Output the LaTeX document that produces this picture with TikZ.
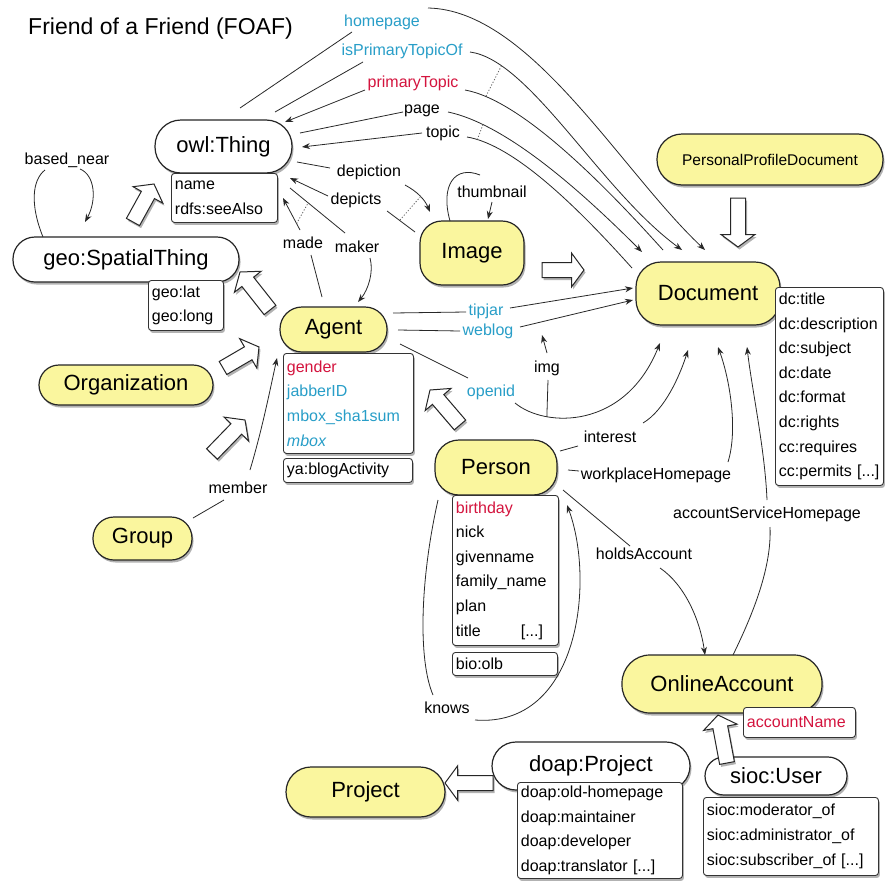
\documentclass[tikz,border=0pt]{standalone}
\usepackage{fontspec}
\setmainfont{Liberation Sans}
\usetikzlibrary{calc,shadows,arrows.meta}
\definecolor{nodeyellow}{RGB}{250,246,158}
\definecolor{lblue}{RGB}{40,158,200}
\definecolor{lred}{RGB}{212,20,62}
\definecolor{edgecol}{RGB}{40,40,40}
\tikzset{
  shad/.style={drop shadow={shadow xshift=1.5pt,shadow yshift=-2.5pt,fill=black,opacity=0.3}},
  mainnode/.style={shad,draw=black!85,line width=1.2pt,inner sep=0pt,font=\fontsize{22}{24}\selectfont},
  ynode/.style={mainnode,fill=nodeyellow},
  wnode/.style={mainnode,fill=white},
  attrbox/.style={shad,draw=black!80,line width=0.9pt,fill=white,rounded corners=3pt,anchor=north west,align=left,inner xsep=3.5pt,inner ysep=0pt,font=\fontsize{16}{24.6}\selectfont},
  lbl/.style={inner sep=1pt,font=\fontsize{16}{18}\selectfont},
  edge/.style={draw=edgecol,line width=0.8pt},
  arr/.style={edge,-{Stealth[length=8pt,width=6pt]}},
  dotl/.style={draw=black!60,line width=0.8pt,dash pattern=on 1.2pt off 1.8pt},
  harrow/.style={shad,draw=black!85,line width=1pt,fill=white,line join=miter},
}
\newcommand\hollowarrow[2]{%
  \coordinate (ha-a) at #1;
  \coordinate (ha-b) at #2;
  \coordinate (ha-n) at ($(ha-b)!12.5pt!(ha-a)$);
  \draw[harrow] ($(ha-a)!7.5pt!90:(ha-b)$) -- ($(ha-n)!7.5pt!-90:(ha-a)$) -- ($(ha-n)!17pt!-90:(ha-a)$) -- (ha-b) -- ($(ha-n)!17pt!90:(ha-a)$) -- ($(ha-n)!7.5pt!90:(ha-a)$) -- ($(ha-a)!7.5pt!-90:(ha-b)$) -- cycle;
}
\begin{document}
\begin{tikzpicture}[x=1pt,y=-1pt]
\useasboundingbox (0,0) rectangle (886,881);
\fill[white] (0,0) rectangle (886,881);

\node[font=\fontsize{23}{26}\selectfont,anchor=west,inner sep=0pt] (title) at (28,29) {Friend of a Friend (FOAF)};

% main nodes
\node[wnode,rounded corners=26pt,minimum width=137pt,minimum height=53pt] (thing) at (223.5,146.5) {owl:Thing};
\node[attrbox,text width=99pt,minimum height=49pt] (thingattr) at (171,173) {name\\rdfs:seeAlso};
\node[wnode,rounded corners=22pt,minimum width=226pt,minimum height=45pt] (geo) at (126,259.5) {geo:SpatialThing};
\node[attrbox,text width=68pt,minimum height=50pt] (geoattr) at (148,280) {geo:lat\\geo:long};
\node[ynode,rounded corners=20pt,minimum width=174pt,minimum height=40pt] (org) at (126,385) {Organization};
\node[ynode,rounded corners=21pt,minimum width=99pt,minimum height=43pt] (group) at (142.5,538.5) {Group};
\node[ynode,rounded corners=22pt,minimum width=107pt,minimum height=45pt] (agent) at (333.5,329.5) {Agent};
\node[attrbox,text width=123pt,minimum height=100pt] (agentattr) at (283,353) {\textcolor{lred}{gender}\\\textcolor{lblue}{jabberID}\\\textcolor{lblue}{mbox\_sha1sum}\\\textcolor{lblue}{\itshape mbox}};
\node[attrbox,text width=122pt,minimum height=24pt] (blog) at (283,458) {ya:blogActivity};
\node[ynode,rounded corners=22pt,minimum width=104pt,minimum height=64pt] (image) at (472,253) {Image};
\node[ynode,rounded corners=25pt,minimum width=144pt,minimum height=63pt] (doc) at (708,293.5) {Document};
\node[attrbox,text width=101pt,minimum height=198pt] (docattr) at (775,287) {dc:title\\dc:description\\dc:subject\\dc:date\\dc:format\\dc:rights\\cc:requires\\\mbox{cc:permits [...]}};
\node[ynode,rounded corners=25pt,minimum width=226pt,minimum height=51pt,font=\fontsize{15.5}{18}\selectfont] (ppd) at (770,159.5) {PersonalProfileDocument};
\node[ynode,rounded corners=24pt,minimum width=122pt,minimum height=55pt] (person) at (496,467.5) {Person};
\node[attrbox,text width=99pt,minimum height=150pt] (personattr) at (452,495) {\textcolor{lred}{birthday}\\nick\\givenname\\family\_name\\plan\\title\hspace{40pt}[...]};
\node[attrbox,text width=98pt,minimum height=23pt] (bio) at (452,652) {bio:olb};
\node[ynode,rounded corners=28pt,minimum width=200pt,minimum height=58pt] (online) at (722,684) {OnlineAccount};
\node[attrbox,text width=105pt,minimum height=30pt] (accname) at (743,707) {\textcolor{lred}{accountName}};
\node[wnode,rounded corners=24pt,minimum width=198pt,minimum height=48pt] (doap) at (591,766) {doap:Project};
\node[attrbox,text width=158pt,minimum height=96pt] (doapattr) at (517,782) {doap:old-homepage\\doap:maintainer\\doap:developer\\doap:translator [...]};
\node[wnode,rounded corners=19pt,minimum width=142pt,minimum height=38pt] (sioc) at (776,776) {sioc:User};
\node[attrbox,text width=168pt,minimum height=78pt] (siocattr) at (703,797) {sioc:moderator\_of\\sioc:administrator\_of\\sioc:subscriber\_of [...]};
\node[ynode,rounded corners=25pt,minimum width=159pt,minimum height=50pt] (project) at (365.5,792) {Project};

% labels
\node[lbl,text=lblue] (homepage) at (382,22) {homepage};
\node[lbl,text=lblue] (ipto) at (402,51) {isPrimaryTopicOf};
\node[lbl,text=lred] (ptopic) at (413,83) {primaryTopic};
\node[lbl] (page) at (422,111) {page};
\node[lbl] (topic) at (443,133) {topic};
\node[lbl] (depiction) at (369,172) {depiction};
\node[lbl] (depicts) at (356,200) {depicts};
\node[lbl] (thumb) at (492,192) {thumbnail};
\node[lbl] (bnear) at (67,160) {based\_near};
\node[lbl] (made) at (303,243) {made};
\node[lbl] (maker) at (357,247) {maker};
\node[lbl] (member) at (238,488) {member};
\node[lbl,text=lblue] (tipjar) at (486,311) {tipjar};
\node[lbl,text=lblue] (weblog) at (488,331) {weblog};
\node[lbl] (img) at (547,368) {img};
\node[lbl,text=lblue] (openid) at (491,392) {openid};
\node[lbl] (interest) at (610,437) {interest};
\node[lbl] (wph) at (656,475) {workplaceHomepage};
\node[lbl] (ash) at (767,514) {accountServiceHomepage};
\node[lbl] (holds) at (644,554) {holdsAccount};
\node[lbl] (knows) at (447,708) {knows};

% homepage
\draw[edge] ($(thing)+(16.5,-38.5)$) -- ($(homepage)+(-30,10)$);
\draw[arr] ($(homepage)+(46,-14)$) .. controls (530,10) and (620,170) .. ($(doc)+(-3,-43.5)$);
% isPrimaryTopicOf
\draw[edge] ($(thing)+(51.5,-34.5)$) -- ($(ipto)+(-39,11)$);
\draw[arr] ($(ipto)+(68,1)$) .. controls (530,60) and (600,190) .. ($(doc)+(-26,-43.5)$) coordinate[pos=0.17] (iptoD);
% primaryTopic
\draw[arr] ($(ptopic)+(-48,7)$) -- ($(thing)+(61.5,-24.5)$);
\draw[edge] ($(ptopic)+(52,7)$) .. controls (520,100) and (600,180) .. ($(doc)+(-45,-43.5)$) coordinate[pos=0.12] (ptD);
\draw[dotl] (iptoD) -- (ptD);
% page
\draw[edge] ($(thing)+(76.5,-13.5)$) -- ($(page)+(-19,1)$);
\draw[arr] ($(page)+(26,1)$) .. controls (510,125) and (590,200) .. ($(doc)+(-66,-41.5)$) coordinate[pos=0.18] (pageD);
% topic
\draw[arr] ($(topic)+(-21,0)$) -- ($(thing)+(78.5,0.5)$);
\draw[edge] ($(topic)+(24,4)$) .. controls (515,145) and (580,210) .. ($(doc)+(-76,-25.5)$) coordinate[pos=0.07] (topicD);
\draw[dotl] (pageD) -- (topicD);
% depiction / depicts
\draw[edge] ($(thing)+(73.5,15.5)$) -- ($(depiction)+(-39,-4)$);
\draw[arr] ($(depiction)+(36,13)$) .. controls (418,192) and (425,200) .. ($(image)+(-42,-41)$) coordinate[pos=0.5] (depD);
\draw[arr] ($(depicts)+(-28,-4)$) -- ($(thing)+(66.5,31.5)$);
\draw[edge] ($(depicts)+(31,11)$) -- ($(image)+(-57,-21)$) coordinate[pos=0.45] (depsD);
\draw[dotl] (depD) -- (depsD);
% thumbnail
\draw[edge] ($(image)+(-22,-32)$) .. controls (440,185) and (455,165) .. ($(thumb)+(-12,-17)$);
\draw[arr] ($(thumb)+(0,10)$) -- ($(image)+(16,-34)$);
% based_near
\draw[edge] ($(geo)+(-83,-22.5)$) .. controls (30,205) and (32,180) .. ($(bnear)+(-22,10)$);
\draw[arr] ($(bnear)+(13,9)$) .. controls (95,175) and (97,200) .. ($(geo)+(-41,-37.5)$);
% made / maker
\draw[edge] ($(agent)+(-11.5,-32.5)$) -- ($(made)+(8,12)$);
\draw[arr] ($(made)+(-3,-13)$) -- ($(thing)+(59.5,51.5)$) coordinate[pos=0.2] (madeD);
\draw[edge] ($(thing)+(66.5,41.5)$) -- ($(maker)+(-12,-14)$) coordinate[pos=0.33] (makerD);
\draw[dotl] (madeD) -- (makerD);
\draw[arr] ($(maker)+(13,11)$) .. controls (374,272) and (368,290) .. ($(agent)+(24.5,-27.5)$);
% tipjar / weblog / openid / img
\draw[edge] ($(agent)+(59.5,-16.5)$) -- ($(tipjar)+(-20,1)$);
\draw[arr] ($(tipjar)+(24,-3)$) -- ($(doc)+(-75,-5.5)$);
\draw[edge] ($(agent)+(64.5,0.5)$) -- ($(weblog)+(-28,0)$);
\draw[arr] ($(weblog)+(32,-4)$) -- ($(doc)+(-75,6.5)$);
\draw[edge] ($(agent)+(66.5,14.5)$) -- ($(openid)+(-23,-14)$);
\draw[arr] ($(openid)+(24,11)$) .. controls (545,428) and (625,430) .. ($(doc)+(-48,49.5)$) coordinate[pos=0.26] (imgfoot);
\draw[edge] (imgfoot) -- ($(img)+(1,12)$);
\draw[arr] ($(img)+(0,-15)$) -- ($(image)+(70,82)$);
% interest
\draw[edge] ($(person)+(64,-16.5)$) -- ($(interest)+(-32,9)$);
\draw[arr] ($(interest)+(33,-14)$) .. controls (665,410) and (680,375) .. ($(doc)+(-20,56.5)$);
% workplaceHomepage
\draw[edge] ($(person)+(72,2.5)$) -- ($(wph)+(-77,-4)$);
\draw[arr] ($(wph)+(72,-13)$) .. controls (738,430) and (730,380) .. ($(doc)+(10,53.5)$);
% accountServiceHomepage
\draw[arr] ($(ash)+(0,-14)$) .. controls (765,450) and (752,390) .. ($(doc)+(39,53.5)$);
\draw[edge] ($(ash)+(3,13)$) .. controls (772,570) and (750,620) .. ($(online)+(11,-29)$);
% holdsAccount
\draw[edge] ($(person)+(67,22.5)$) -- ($(holds)+(-14,-8)$);
\draw[arr] ($(holds)+(16,14)$) .. controls (685,585) and (700,620) .. ($(online)+(-17,-29)$);
% knows
\draw[edge] ($(person)+(-58,32.5)$) .. controls (420,580) and (418,660) .. ($(knows)+(-14,-13)$);
\draw[arr] ($(knows)+(28,12)$) .. controls (580,728) and (595,580) .. ($(person)+(71,37.5)$);
% member
\draw[edge] ($(group)+(50.5,-20.5)$) -- ($(member)+(-14,12)$);
\draw[arr] ($(member)+(12,-18)$) .. controls (262,430) and (270,390) .. ($(agent)+(-56.5,28.5)$);

% subclass arrows
\hollowarrow{($(geo)+(7,-37.5)$)}{($(thing)+(-69.5,37.5)$)}
\hollowarrow{($(agent)+(-63.5,-19.5)$)}{($(geo)+(114,12.5)$)}
\hollowarrow{($(org)+(97,-17)$)}{($(agent)+(-74.5,17.5)$)}
\hollowarrow{($(group)+(69.5,-84.5)$)}{($(agent)+(-88.5,90.5)$)}
\hollowarrow{($(person)+(-36,-42.5)$)}{($(agent)+(96.5,60.5)$)}
\hollowarrow{($(image)+(70,17)$)}{($(doc)+(-124,-23.5)$)}
\hollowarrow{($(ppd)+(-32,38.5)$)}{($(doc)+(30,-46.5)$)}
\hollowarrow{($(doap)+(-98,17)$)}{($(project)+(79.5,-9)$)}
\hollowarrow{($(sioc)+(-49,-13)$)}{($(online)+(-4,31)$)}
\end{tikzpicture}
\end{document}
